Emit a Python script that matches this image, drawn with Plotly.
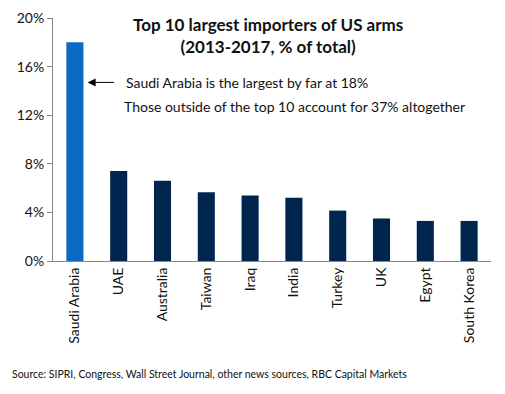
import plotly.graph_objects as go

countries = ["Saudi Arabia", "UAE", "Australia", "Taiwan", "Iraq", "India",
             "Turkey", "UK", "Egypt", "South Korea"]
shares = [18.0, 7.4, 6.6, 5.65, 5.4, 5.2, 4.15, 3.5, 3.3, 3.3]
bar_colors = ["#0A6AC3"] + ["#00264F"] * 9
y_ticks = [0, 4, 8, 12, 16, 20]
y_tick_labels = ["0%", "4%", "8%", "12%", "16%", "20%"]

title_text = "Top 10 largest importers of US arms<br>(2013-2017, % of total)"
note1 = "Saudi Arabia is the largest by far at 18%"
note2 = "Those outside of the top 10 account for 37% altogether"
source = "Source: SIPRI, Congress, Wall Street Journal, other news sources, RBC Capital Markets"

FONT = "Lato, 'Open Sans', sans-serif"

fig = go.Figure(go.Bar(x=countries, y=shares, marker_color=bar_colors,
                       marker_line_width=0))

# page body has an 8px default margin, so the figure is offset by 8px
fig.update_layout(
    width=497, height=386,
    margin=dict(l=45, r=14, t=10, b=133),
    paper_bgcolor="white", plot_bgcolor="white",
    bargap=0.61,
    showlegend=False,
    font=dict(family=FONT, color="#111111"),
)
fig.update_yaxes(range=[0, 20], tickvals=y_ticks, ticktext=y_tick_labels,
                 showgrid=False, zeroline=False, showline=True,
                 linecolor="#888888", linewidth=1, ticks="outside",
                 ticklen=5, tickcolor="#888888", tickfont=dict(size=14),
                 automargin=False)
fig.update_xaxes(showline=True, linecolor="#888888", linewidth=1,
                 tickangle=-90, tickfont=dict(size=14), ticks="",
                 range=[-0.5, 9.5], automargin=False)

fig.add_annotation(xref="paper", yref="paper", x=(268 - 53) / 438,
                   y=1 + 6 / 242, yanchor="top",
                   text="<b>" + title_text + "</b>", showarrow=False,
                   font=dict(size=17, family=FONT), align="center")
fig.add_annotation(xref="x", yref="y", x=0.29, y=14.7, ax=28, ay=0,
                   text="", showarrow=True, arrowhead=2, arrowsize=1.6,
                   arrowwidth=1, arrowcolor="black")
fig.add_annotation(xref="paper", yref="y", x=(124 - 53) / 438, y=14.7,
                   xanchor="left", text=note1, showarrow=False,
                   font=dict(size=14, family=FONT))
fig.add_annotation(xref="paper", yref="y", x=(122 - 53) / 438, y=12.75,
                   xanchor="left", text=note2, showarrow=False,
                   font=dict(size=14, family=FONT))
fig.add_annotation(xref="paper", yref="paper", x=(10 - 53) / 438,
                   y=-(374 - 261) / 242, xanchor="left", yanchor="middle",
                   text=source, showarrow=False,
                   font=dict(size=10.5, family=FONT))

fig.write_html("out.html")
